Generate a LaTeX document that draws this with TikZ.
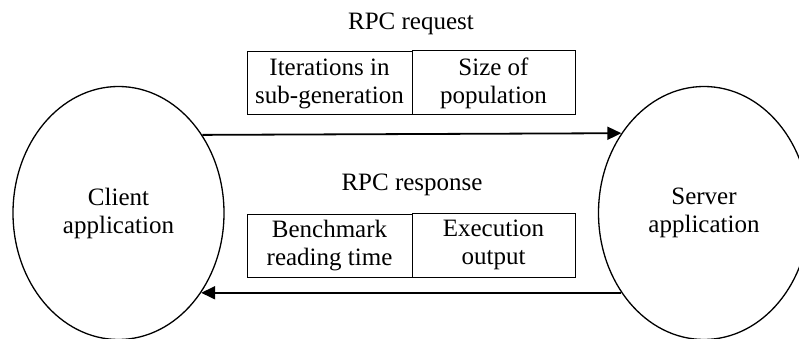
\documentclass[tikz,border=0pt]{standalone}
\usepackage{fontspec}
\setmainfont{Liberation Serif}
\usetikzlibrary{shapes.geometric,arrows.meta}
\begin{document}
\begin{tikzpicture}[x=1pt,y=-1pt,
  txt/.style={font=\fontsize{25}{28}\selectfont},
  app/.style={txt, draw, ellipse, line width=1.3pt, minimum width=211pt,
    minimum height=253pt, inner sep=0pt, align=center},
  cell/.style={txt, draw, line width=1pt, inner sep=0pt, align=center},
  leftcell/.style={cell, minimum width=165pt, minimum height=63pt},
  rightcell/.style={cell, minimum width=163pt, minimum height=64pt},
  rpclabel/.style={txt, inner sep=0pt, anchor=base},
  msg/.style={line width=1.8pt, -{Triangle[length=14pt,width=13pt]}}]
  \useasboundingbox (0,0) rectangle (799,339);
  \fill[white] (0,0) rectangle (799,339);

  % the two endpoints of the call
  \node[app] (client) at (118.5,213) {Client\\application};
  \node[app] (server) at (704,213) {Server\\application};

  % request message
  \node[rpclabel] (req) at (411,30) {RPC request};
  \node[leftcell]  (iter) at (329.5,83.5) {Iterations in\\sub-generation};
  \node[rightcell] (size) at (493.5,83) {Size of\\population};

  % response message
  \node[rpclabel] (resp) at (412,190) {RPC response};
  \node[leftcell]  (bench) at (329.5,245.5) {Benchmark\\reading time};
  \node[rightcell] (exec)  at (493.5,245) {Execution\\output};

  % message flow
  \draw[msg] (client.43.3) -- (server.136.7);
  \draw[msg] (server.224.5) -- (client.-44.5);
\end{tikzpicture}
\end{document}
